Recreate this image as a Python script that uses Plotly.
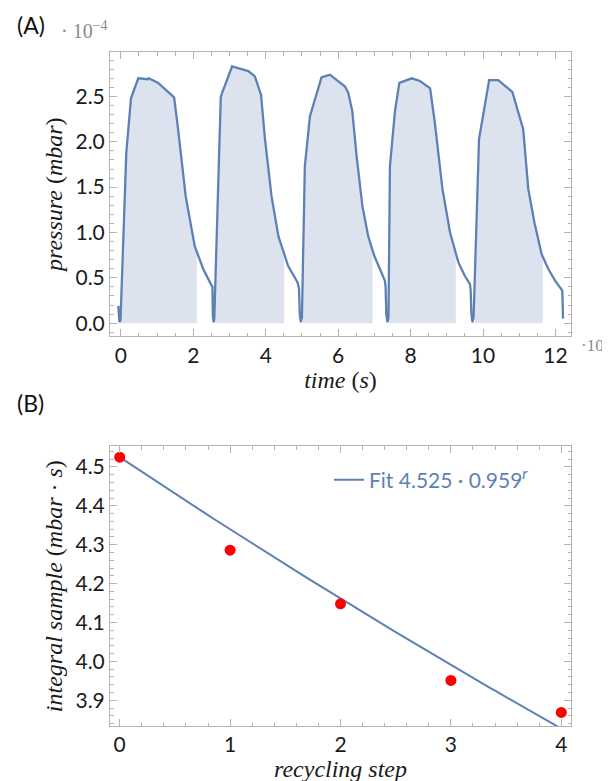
import numpy as np
import plotly.graph_objects as go

# ---------------- Panel A data (time in 10^4 s, pressure in 10^-4 mbar) -------------
time_1e4_s = [
    -0.07, -0.06, -0.04, -0.01, 0.15, 0.28, 0.48, 0.75, 0.77, 1.03, 1.47, 1.58, 1.79, 2.04, 2.27, 2.50,
    2.53, 2.54, 2.56, 2.58, 2.76, 3.07, 3.52, 3.70, 3.87, 3.98, 4.16, 4.35, 4.62, 4.88, 4.92,
    4.94, 4.97, 5.00, 5.08, 5.22, 5.54, 5.77, 6.19, 6.28, 6.39, 6.51, 6.67, 6.83, 7.00, 7.15, 7.29, 7.31,
    7.33, 7.36, 7.39, 7.43, 7.57, 7.69, 8.03, 8.26, 8.54, 8.67, 8.88, 9.09, 9.32, 9.50, 9.64, 9.66,
    9.68, 9.71, 9.74, 9.89, 10.17, 10.42, 10.81, 11.11, 11.25, 11.42, 11.62, 11.80, 11.99, 12.19, 12.21,
]
pressure_1e4_mbar = [
    0.19, 0.06, 0.01, 0.03, 1.88, 2.48, 2.70, 2.69, 2.70, 2.65, 2.49, 2.14, 1.40, 0.85, 0.60, 0.42,
    0.40, 0.08, 0.01, 0.05, 2.50, 2.83, 2.78, 2.72, 2.52, 2.03, 1.40, 0.96, 0.63, 0.45, 0.38,
    0.10, 0.01, 0.06, 1.73, 2.28, 2.71, 2.74, 2.61, 2.54, 2.34, 1.84, 1.29, 0.96, 0.74, 0.60, 0.47, 0.40,
    0.10, 0.01, 0.06, 1.73, 2.34, 2.65, 2.70, 2.67, 2.59, 2.21, 1.48, 1.00, 0.67, 0.52, 0.43, 0.36,
    0.10, 0.01, 0.06, 2.03, 2.68, 2.68, 2.55, 2.14, 1.48, 1.11, 0.76, 0.60, 0.47, 0.36, 0.05,
]
# integration windows (shaded regions), in 10^4 s
window_start = [0.00, 2.60, 5.03, 7.40, 9.78]
window_end = [2.10, 4.51, 6.95, 9.25, 11.65]

# ---------------- Panel B data --------------------------------------------------------
recycling_step = [0, 1, 2, 3, 4]
integral_sample = [4.525, 4.286, 4.148, 3.951, 3.869]
fit_amplitude = 4.525
fit_base = 0.959

LINE = "#5E81B5"
FILL = "#dde3ee"
FRAME = "#b3b3b3"
TICKFONT = dict(family="Lato", size=21, color="#1a1a1a")
TITLEFONT = dict(family="Liberation Serif", size=24, color="#1a1a1a")

W, H = 610, 781
ml, mr, mt, mb = 102, 47, 44, 58
pw, ph = W - ml - mr, H - mt - mb

fig = go.Figure()

t = np.array(time_1e4_s)
p = np.array(pressure_1e4_mbar)
for a, b in zip(window_start, window_end):
    inside = (t > a) & (t < b)
    xs = np.concatenate([[a], t[inside], [b]])
    ys = np.concatenate([[np.interp(a, t, p)], p[inside], [np.interp(b, t, p)]])
    fig.add_trace(go.Scatter(x=xs, y=ys, mode="lines", line=dict(width=0, color=FILL),
                             fill="tozeroy", fillcolor=FILL, showlegend=False,
                             hoverinfo="skip", xaxis="x", yaxis="y"))

fig.add_trace(go.Scatter(x=time_1e4_s, y=pressure_1e4_mbar, mode="lines",
                         line=dict(color=LINE, width=2.3), showlegend=False,
                         xaxis="x", yaxis="y"))

r = np.linspace(0, 4, 81)
fig.add_trace(go.Scatter(x=r, y=fit_amplitude * fit_base ** r, mode="lines",
                         line=dict(color=LINE, width=2),
                         name=f"Fit {fit_amplitude} · {fit_base}<sup><i>r</i></sup>",
                         showlegend=True, xaxis="x2", yaxis="y2"))
fig.add_trace(go.Scatter(x=recycling_step, y=integral_sample, mode="markers",
                         marker=dict(color="#ff0000", size=11), showlegend=False,
                         cliponaxis=False, xaxis="x2", yaxis="y2"))

common = dict(showgrid=False, zeroline=False, showline=True, linecolor=FRAME, linewidth=1,
              mirror="ticks", ticks="inside", ticklen=7, tickcolor=FRAME, tickwidth=1,
              tickfont=TICKFONT)


def px_to_paper(px, py):
    return (px - ml) / pw, (H - mb - py) / ph


def label(text, px, py, font, xanchor="left"):
    x, y = px_to_paper(px, py)
    return dict(text=text, x=x, y=y, xref="paper", yref="paper", showarrow=False,
                xanchor=xanchor, yanchor="middle", font=font, borderpad=0)


fig.update_layout(
    width=W, height=H,
    margin=dict(l=ml, r=mr, t=mt, b=mb),
    paper_bgcolor="white", plot_bgcolor="white",
    xaxis=dict(domain=[0, 1], anchor="y", range=[-0.30, 12.43],
               tickvals=[0, 2, 4, 6, 8, 10, 12],
               minor=dict(dtick=0.5, ticks="inside", ticklen=3.5, tickcolor=FRAME),
               title=dict(text="<i>time</i> (<i>s</i>)", font=TITLEFONT, standoff=4),
               **common),
    yaxis=dict(domain=[0.578, 1], anchor="x", range=[-0.146, 2.99],
               tickvals=[0, 0.5, 1.0, 1.5, 2.0, 2.5], tickformat=".1f",
               minor=dict(dtick=0.1, ticks="inside", ticklen=3.5, tickcolor=FRAME),
               title=dict(text="<i>pressure</i> (<i>mbar</i>)", font=TITLEFONT, standoff=6),
               **common),
    xaxis2=dict(domain=[0, 1], anchor="y2", range=[-0.088, 4.088],
                tickvals=[0, 1, 2, 3, 4],
                minor=dict(dtick=0.2, ticks="inside", ticklen=3.5, tickcolor=FRAME),
                title=dict(text="<i>recycling step</i>", font=TITLEFONT, standoff=4),
                **common),
    yaxis2=dict(domain=[0, 0.415], anchor="x2", range=[3.834, 4.553],
                tickvals=[3.9, 4.0, 4.1, 4.2, 4.3, 4.4, 4.5], tickformat=".1f",
                minor=dict(dtick=0.02, ticks="inside", ticklen=3.5, tickcolor=FRAME),
                title=dict(text="<i>integral sample</i> (<i>mbar</i> · <i>s</i>)", font=TITLEFONT, standoff=6),
                **common),
    legend=dict(x=0.475, y=0.365, xanchor="left", yanchor="middle",
                font=dict(family="Lato", size=21, color=LINE),
                bgcolor="rgba(0,0,0,0)", itemwidth=30),
    annotations=[
        label("(A)", 8, 17, dict(family="Lato", size=23, color="#111")),
        label("(B)", 8, 398, dict(family="Lato", size=23, color="#111")),
        label("· 10<sup>−4</sup>", 52, 22, dict(family="Liberation Serif", size=20, color="#8a8a8a")),
        label("·10<sup>4</sup>", 603, 338, dict(family="Liberation Serif", size=17, color="#8a8a8a"),
              xanchor="right"),
    ],
)

fig.write_html("out.html")
